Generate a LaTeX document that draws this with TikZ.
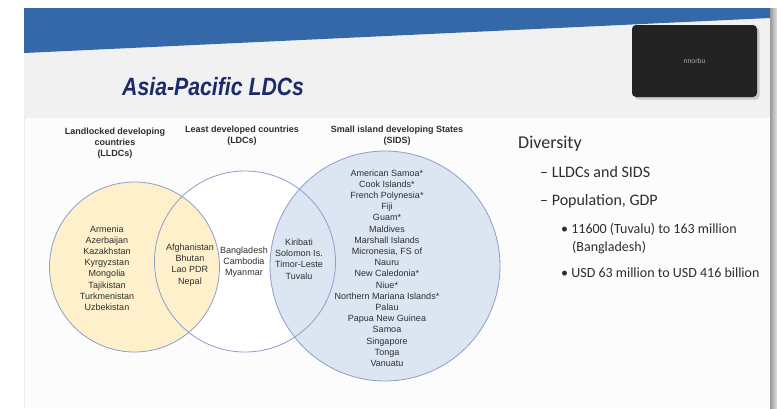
\documentclass[tikz,border=0pt]{standalone}
\usepackage{fontspec}
\setmainfont{Liberation Sans}
\newfontfamily\calibri{Carlito}
\usetikzlibrary{shadows}

\definecolor{bandblue}{HTML}{3468A8}
\definecolor{slidegray}{HTML}{F1F1F1}
\definecolor{titlenavy}{HTML}{1C2A6B}
\definecolor{camdark}{HTML}{232323}
\definecolor{lldcfill}{HTML}{FDF0CB}
\definecolor{sidsfill}{HTML}{DCE6F3}
\definecolor{vennedge}{HTML}{8E9DCB}
\definecolor{darktext}{HTML}{2E2E2E}

\begin{document}
\begin{tikzpicture}[x=1pt,y=-1pt,
	venn/.style={circle,inner sep=0pt,outer sep=0pt},
	vennline/.style={draw=vennedge,line width=0.8pt},
	head/.style={align=center,text=darktext,font=\bfseries\fontsize{9}{11}\selectfont},
	names/.style={align=center,text=darktext,font=\fontsize{9}{11.2}\selectfont},
	point/.style={anchor=base west,inner sep=0pt,text=darktext,font=\calibri\fontsize{18}{21}\selectfont},
	subpoint/.style={point,font=\calibri\fontsize{16}{19}\selectfont},
	detail/.style={point,font=\calibri\fontsize{14}{17}\selectfont}]
	\useasboundingbox (0,0) rectangle (777,408);
	\fill[white] (0,0) rectangle (777,408);

	% slide background and header band
	\fill[slidegray] (24,8) rectangle (770,118);
	\fill[white!99!black] (24,118) rectangle (770,408);
	\draw[black!8] (24,118) -- (24,408);
	\fill[bandblue] (24,8) -- (770,8) -- (770,18) -- (24,53) -- cycle;
	\shade[left color=black!40,right color=black!12] (770,8) rectangle (777,408);

	\node[anchor=base west,inner sep=0pt,text=titlenavy] (title) at (122,95)
		{\scalebox{0.85}[1]{\fontsize{25}{30}\selectfont\bfseries\itshape Asia-Pacific LDCs}};

	\node[fill=camdark,rounded corners=4pt,minimum width=125pt,minimum height=72pt,
		drop shadow={opacity=0.35}] (camBox) at (694.5,61) {};
	\node[text=black!35,font=\fontsize{7}{8}\selectfont] (camName) at (camBox) {nnorbu};

	% the three sets
	\node[venn,fill=white,minimum size=181pt] (ldcSet) at (245,261.5) {};
	\node[venn,fill=lldcfill,vennline,minimum size=170pt] (lldcSet) at (134.5,267) {};
	\node[venn,fill=sidsfill,vennline,minimum size=230pt] (sidsSet) at (385,266) {};
	\draw[vennline] (ldcSet.center) circle (90.5pt);

	\node[head] (lldcHead) at (115,143) {Landlocked developing\\countries\\(LLDCs)};
	\node[head] (ldcHead) at (242,136) {Least developed countries\\(LDCs)};
	\node[head] (sidsHead) at (397,136) {Small island developing States\\(SIDS)};

	\node[names] (lldcOnly) at (107,268) {Armenia\\Azerbaijan\\Kazakhstan\\Kyrgyzstan\\Mongolia\\Tajikistan\\Turkmenistan\\Uzbekistan};
	\node[names] (lldcLdc) at (190,265) {Afghanistan\\Bhutan\\Lao PDR\\Nepal};
	\node[names] (ldcOnly) at (244,262) {Bangladesh\\Cambodia\\Myanmar};
	\node[names] (ldcSids) at (299,259) {Kiribati\\Solomon Is.\\Timor-Leste\\Tuvalu};
	\node[names] (sidsOnly) at (387,268) {American Samoa*\\Cook Islands*\\French Polynesia*\\Fiji\\Guam*\\Maldives\\Marshall Islands\\Micronesia, FS of\\Nauru\\New Caledonia*\\Niue*\\Northern Mariana Islands*\\Palau\\Papua New Guinea\\Samoa\\Singapore\\Tonga\\Vanuatu};

	% talking points
	\node[point] (diversity) at (518,148) {Diversity};
	\node[subpoint] (groups) at (540,177) {– LLDCs and SIDS};
	\node[subpoint] (popGdp) at (540,205) {– Population, GDP};
	\node[detail] (popRange) at (561,233) {• 11600 (Tuvalu) to 163 million};
	\node[detail] (popRangeEnd) at (572,251) {(Bangladesh)};
	\node[detail] (gdpRange) at (561,277) {• USD 63 million to USD 416 billion};
\end{tikzpicture}
\end{document}
